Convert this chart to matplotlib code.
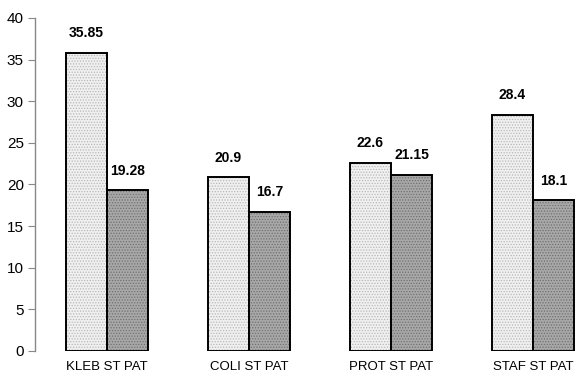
import matplotlib.pyplot as plt
import numpy as np

# Bacterial strains and the two measured series
categories = ["KLEB ST PAT", "COLI ST PAT", "PROT ST PAT", "STAF ST PAT"]
series_a = [35.85, 20.9, 22.6, 28.4]
series_b = [19.28, 16.7, 21.15, 18.1]
yticks = [0, 5, 10, 15, 20, 25, 30, 35, 40]

plt.rcParams['font.family'] = ['Liberation Sans', 'DejaVu Sans']
plt.rcParams['hatch.linewidth'] = 0.6

fig = plt.figure(figsize=(5.81, 3.78), dpi=100)
ax = fig.add_axes([35 / 581, 27 / 378, 543 / 581, 333 / 378])

x = np.arange(len(categories))
w = 0.29

def draw_bars(xpos, vals, fill, dots):
    # dotted fill first, then a plain black outline on top
    ax.bar(xpos, vals, w, color=fill, edgecolor=dots, hatch='......',
           linewidth=0)
    ax.bar(xpos, vals, w, facecolor='none', edgecolor='black', linewidth=1.4)
    for xi, v in zip(xpos, vals):
        ax.annotate('{:g}'.format(v), (xi, v), xytext=(0, 9),
                    textcoords='offset points', ha='center', va='bottom',
                    fontsize=10, fontweight='bold')

draw_bars(x - w / 2, series_a, '#f0f0f0', '#b8b8b8')
draw_bars(x + w / 2, series_b, '#a8a8a8', '#707070')

ax.set_ylim(0, 40)
ax.set_xlim(-0.507, 3.317)
ax.set_yticks(yticks)
ax.set_xticks(x)
ax.set_xticklabels(categories, fontsize=9.5)
ax.tick_params(axis='x', length=0, pad=7)
ax.tick_params(axis='y', direction='out', length=5, color='#888888',
               labelsize=11, pad=3)

for side in ['top', 'right', 'bottom']:
    ax.spines[side].set_visible(False)
ax.spines['left'].set_color('#888888')
ax.spines['left'].set_linewidth(1)

plt.savefig('out.png', dpi=100)
